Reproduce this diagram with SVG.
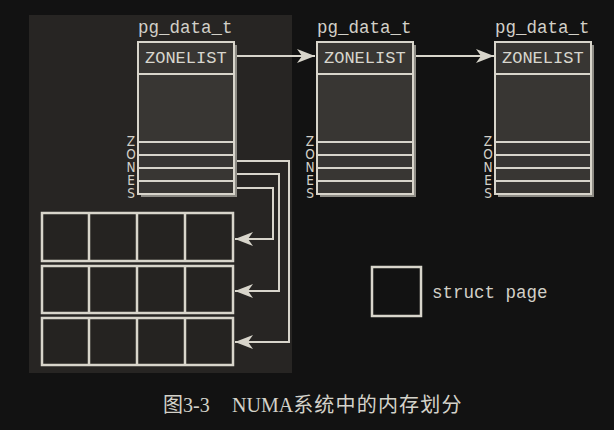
<svg xmlns="http://www.w3.org/2000/svg" width="614" height="430" viewBox="0 0 614 430">
<style>
.ln{fill:none;stroke:#d8d5cb;stroke-width:2}
.shadow{fill:#8e8c85}
.box{fill:#383633;stroke:#d8d5cb;stroke-width:2}
.mono{font-family:"Courier New","Liberation Mono","DejaVu Sans Mono",monospace;font-size:17.5px;fill:#d2d0c8}
.zl{font-family:"Courier New","Liberation Mono","DejaVu Sans Mono",monospace;font-size:17px;fill:#d8d6ce}
.z{font-family:"DejaVu Sans Condensed","DejaVu Sans",sans-serif;font-stretch:condensed;font-size:13.5px;fill:#d2d0c8;text-anchor:middle}
.page{fill:#252321;stroke:#d8d5cb;stroke-width:2.5}
.cap{font-family:"Liberation Serif","Noto Sans CJK SC",serif;font-size:20px;fill:#d4d2ca}
</style>
<defs>
<marker id="ah" viewBox="0 0 18 14" refX="18" refY="7" markerWidth="18" markerHeight="14" markerUnits="userSpaceOnUse" orient="auto">
<path d="M0,0 L18,7 L0,14 L5,7 z" fill="#d8d5cb"/>
</marker>
<g id="nodeShape">
<rect class="shadow" x="3" y="3" width="96" height="152"/>
<rect class="box" x="0" y="0" width="96" height="152"/>
<line class="ln" x1="0" y1="32" x2="96" y2="32"/>
<line class="ln" x1="0" y1="100" x2="96" y2="100"/>
<line class="ln" x1="0" y1="113" x2="96" y2="113"/>
<line class="ln" x1="0" y1="126" x2="96" y2="126"/>
<line class="ln" x1="0" y1="139" x2="96" y2="139"/>
<text class="zl" x="7" y="21">ZONELIST</text>
<text class="z" x="-7" y="104">Z</text>
<text class="z" x="-7" y="117">O</text>
<text class="z" x="-7" y="130">N</text>
<text class="z" x="-7" y="143">E</text>
<text class="z" x="-7" y="156">S</text>
</g>
</defs>
<rect width="614" height="430" fill="#121212"/>
<rect id="panel" x="29" y="15" width="263" height="358" fill="#272523"/>

<g id="node1">
<text class="mono" x="138" y="33">pg_data_t</text>
<use href="#nodeShape" x="138" y="42"/>
</g>
<g id="node2">
<text class="mono" x="317" y="33">pg_data_t</text>
<use href="#nodeShape" x="317" y="42"/>
</g>
<g id="node3">
<text class="mono" x="495" y="33">pg_data_t</text>
<use href="#nodeShape" x="495" y="42"/>
</g>

<g id="pages1">
<rect class="page" x="42" y="213" width="191" height="48"/>
<line class="page" x1="89" y1="213" x2="89" y2="261"/>
<line class="page" x1="137" y1="213" x2="137" y2="261"/>
<line class="page" x1="185" y1="213" x2="185" y2="261"/>
</g>
<g id="pages2">
<rect class="page" x="42" y="266" width="191" height="47"/>
<line class="page" x1="89" y1="266" x2="89" y2="313"/>
<line class="page" x1="137" y1="266" x2="137" y2="313"/>
<line class="page" x1="185" y1="266" x2="185" y2="313"/>
</g>
<g id="pages3">
<rect class="page" x="42" y="318" width="191" height="47"/>
<line class="page" x1="89" y1="318" x2="89" y2="365"/>
<line class="page" x1="137" y1="318" x2="137" y2="365"/>
<line class="page" x1="185" y1="318" x2="185" y2="365"/>
</g>

<g id="legend">
<rect x="372" y="267" width="49" height="49" fill="#121212" stroke="#d8d5cb" stroke-width="2.5"/>
<text class="mono" x="432" y="298">struct page</text>
</g>

<g id="connectors">
<path class="ln" d="M237 56 H315" marker-end="url(#ah)"/>
<path class="ln" d="M416 56 H494" marker-end="url(#ah)"/>
<path class="ln" d="M237 161 H289 V342 H235" marker-end="url(#ah)"/>
<path class="ln" d="M237 174 H279 V291 H235" marker-end="url(#ah)"/>
<path class="ln" d="M237 188 H273 V239 H235" marker-end="url(#ah)"/>
</g>

<text class="cap" y="412"><tspan x="163">图3-3</tspan><tspan x="232">NUMA</tspan><tspan letter-spacing="1.2">系统中的内存划分</tspan></text>
</svg>
